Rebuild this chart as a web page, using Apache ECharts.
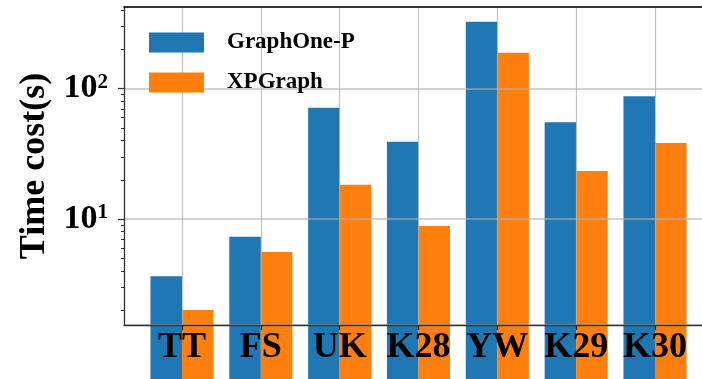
<!DOCTYPE html>
<html>
<head>
<meta charset="utf-8">
<script src="https://cdn.jsdelivr.net/npm/echarts@6/dist/echarts.min.js"></script>
<style>
html,body{margin:0;padding:0;background:#fff;}
#c{width:702px;height:379px;}
</style>
</head>
<body>
<div id="c"></div>
<script>
var categories = ['TT', 'FS', 'UK', 'K28', 'YW', 'K29', 'K30'];
var graphOneP = [3.64, 7.3, 71.4, 39.1, 327, 55.2, 87.6];
var xpGraph = [2.0, 5.57, 18.3, 8.84, 189, 23.3, 38.3];
var seriesNames = ['GraphOne-P', 'XPGraph'];
var majorTicks = [10, 100];
var minorTicks = [2, 3, 4, 5, 6, 7, 8, 9, 20, 30, 40, 50, 60, 70, 80, 90, 200, 300, 400];
var yMin = 1.536, yMax = 423.6;

var FONT = "'Times New Roman', 'Liberation Serif', serif";
var BLUE = '#1f77b4', ORANGE = '#ff7f0e';
var GRID_C = 'rgba(176,176,176,0.75)';

function makeBar(name, vals, color, side) {
  return {
    type: 'custom', name: name, xAxisIndex: 2, yAxisIndex: 2, z: 1, clip: false,
    itemStyle: { color: color },
    data: vals.map(function (v, i) { return [i, v]; }),
    renderItem: function (params, api) {
      var i = api.value(0), v = api.value(1);
      var top = api.coord([i, v]);
      var band = api.size([1, 0])[0];
      var w = band * 0.4;
      var x = side < 0 ? top[0] - w : top[0];
      return { type: 'rect', shape: { x: x, y: top[1], width: w, height: api.getHeight() + 10 - top[1] },
               style: { fill: color } };
    }
  };
}

var chart = echarts.init(document.getElementById('c'), null, { renderer: 'canvas' });
chart.setOption({
  animation: false,
  backgroundColor: '#fff',
  grid: [
    { left: 124, right: -5, top: 7, bottom: 54 },
    { left: 182, right: 47, top: 7, bottom: 54 }
  ],
  legend: {
    orient: 'vertical', left: 149, top: 31, padding: 0, itemGap: 17, zlevel: 2,
    itemWidth: 55, itemHeight: 20, icon: 'rect',
    data: seriesNames,
    textStyle: { fontFamily: FONT, fontWeight: 'bold', fontSize: 23, color: '#000', padding: [0, 0, 0, 18] }
  },
  xAxis: [
    { gridIndex: 0, type: 'value', min: 0, max: 1, position: 'bottom', zlevel: 1, z: 6,
      axisLine: { show: true, lineStyle: { color: '#333', width: 1.3 } },
      axisTick: { show: false }, axisLabel: { show: false }, splitLine: { show: false } },
    { gridIndex: 0, type: 'value', min: 0, max: 1, position: 'top', zlevel: 1, z: 6,
      axisLine: { show: true, lineStyle: { color: '#000', width: 1.6 } },
      axisTick: { show: false }, axisLabel: { show: false }, splitLine: { show: false } },
    { gridIndex: 1, type: 'category', data: categories, boundaryGap: false, position: 'bottom', zlevel: 1, z: 5,
      axisLine: { show: false },
      axisTick: { show: true, interval: 0, length: 5, lineStyle: { color: '#222', width: 1.2 } },
      axisLabel: { interval: 0, margin: 5, fontFamily: FONT, fontWeight: 'bold', fontSize: 36, color: '#000' },
      splitLine: { show: true, interval: 0, lineStyle: { color: GRID_C, width: 1.2 } } }
  ],
  yAxis: [
    { gridIndex: 0, type: 'log', logBase: 10, min: yMin, max: yMax, position: 'left', zlevel: 1, z: 5,
      name: 'Time cost(s)', nameLocation: 'middle', nameGap: 68,
      nameTextStyle: { fontFamily: FONT, fontWeight: 'bold', fontSize: 36, color: '#000' },
      axisLine: { show: true, lineStyle: { color: '#333', width: 1.3 } },
      axisTick: { show: true, customValues: majorTicks, length: 6, lineStyle: { color: '#333', width: 1.2 } },
      axisLabel: {
        customValues: majorTicks, margin: 16,
        formatter: function (v) { return '{b|10}{s|' + Math.round(Math.log(v) / Math.LN10) + '}'; },
        rich: {
          b: { fontFamily: FONT, fontWeight: 'bold', fontSize: 34, color: '#000', lineHeight: 34, padding: [6, 0, 0, 0], verticalAlign: 'bottom' },
          s: { fontFamily: FONT, fontWeight: 'bold', fontSize: 21, color: '#000', lineHeight: 21, verticalAlign: 'top' }
        }
      },
      splitLine: { show: false } },
    { gridIndex: 0, type: 'log', logBase: 10, min: yMin, max: yMax, position: 'left', zlevel: 1, z: 5,
      axisLine: { show: false },
      axisTick: { show: true, customValues: minorTicks, length: 3, lineStyle: { color: '#333', width: 1 } },
      axisLabel: { show: false }, splitLine: { show: false } },
    { gridIndex: 1, type: 'log', logBase: 10, min: yMin, max: yMax, show: false },
    { gridIndex: 0, type: 'log', logBase: 10, min: yMin, max: yMax, position: 'left', zlevel: 1, z: 4,
      axisLine: { show: false }, axisTick: { show: false }, axisLabel: { show: false },
      splitLine: { show: true, lineStyle: { color: GRID_C, width: 1.6 } } }
  ],
  series: [
    makeBar(seriesNames[0], graphOneP, BLUE, -1),
    makeBar(seriesNames[1], xpGraph, ORANGE, 1)
  ]
});
</script>
</body>
</html>
